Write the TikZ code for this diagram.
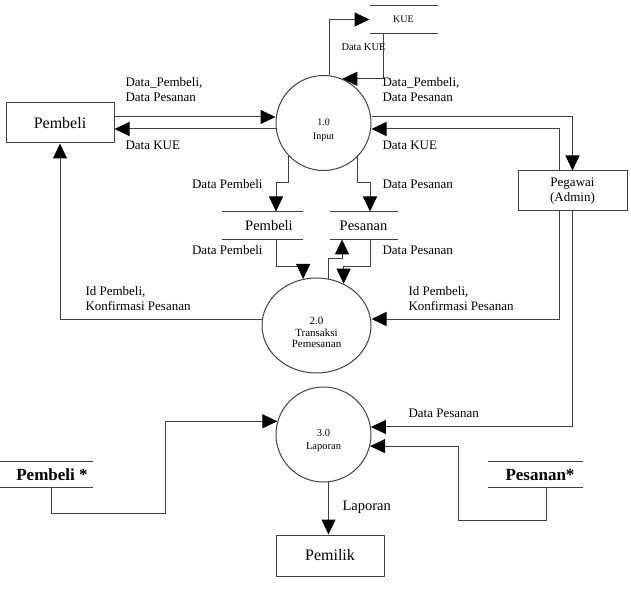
\documentclass[tikz,border=0pt]{standalone}
\usepackage{fontspec}
\setmainfont{Liberation Serif}
\usetikzlibrary{arrows.meta,shapes.geometric}

\begin{document}
\begin{tikzpicture}[x=1pt,y=-1pt,line width=1pt,
    proc/.style={circle,draw=black!75,minimum size=95pt,inner sep=0pt},
    ent/.style={rectangle,draw=black!75,minimum width=108pt,minimum height=40pt,font=\fontsize{16}{18}\selectfont},
    store/.style={minimum height=27pt,inner sep=0pt},
    lbl/.style={inner sep=0pt,align=left,font=\fontsize{13}{15}\selectfont},
    flow/.style={draw=black!75,-{Triangle[length=15pt,width=14pt,color=black]}}]
      \useasboundingbox (0,0) rectangle (631,609);
      \node[ent] (pbl) at (60,123) {Pembeli};
      \node[ent,minimum width=109pt,align=center,font=\fontsize{13}{15}\selectfont] (peg) at (572.5,191) {Pegawai\\(Admin)};
      \node[ent,minimum height=41pt] (pml) at (330,555.5) {Pemilik};
      \node[proc] (p1) at (323.5,123) {};
      \node[align=center,font=\fontsize{10}{14}\selectfont] (p1t) at ([yshift=-7pt]p1) {1.0\\Input};
      \node[ellipse,draw=black!75,minimum width=109pt,minimum height=95pt,inner sep=0pt] (p2) at (316.5,325.5) {};
      \node[align=center,font=\fontsize{11}{11.5}\selectfont] (p2t) at ([yshift=-7pt]p2) {2.0\\Transaksi\\Pemesanan};
      \node[proc] (p3) at (323.5,434.5) {};
      \node[align=center,font=\fontsize{10.5}{13}\selectfont] (p3t) at ([yshift=-6pt]p3) {3.0\\Laporan};
      \node[store,minimum width=67pt,font=\fontsize{10}{12}\selectfont] (kue) at (403.5,19.5) {KUE};
      \node[store,minimum width=80pt,font=\fontsize{14.5}{16}\selectfont] (dpb) at (262,225.5) {\hspace*{14pt}Pembeli};
      \node[store,minimum width=67pt,font=\fontsize{14.5}{16}\selectfont] (dps) at (363.5,225.5) {Pesanan};
      \node[store,minimum width=92pt,minimum height=25pt,font=\bfseries\fontsize{17}{19}\selectfont] (dpb2) at (46,474.5) {\hspace*{12pt}Pembeli *};
      \node[store,minimum width=94pt,minimum height=25pt,font=\bfseries\fontsize{17}{19}\selectfont] (dps2) at (535,474.5) {\hspace*{10pt}Pesanan*};
      \foreach \s in {kue,dpb,dps,dpb2,dps2}
        \draw[black!75] (\s.north west) -- (\s.north east) (\s.south west) -- (\s.south east);
      \draw[flow] ([yshift=6pt]pbl.east) -- ([yshift=6pt]p1.west);
      \draw[flow] ([yshift=-6pt]p1.west) -- ([yshift=-6pt]pbl.east);
      \draw[flow] (p1.83) |- (kue.west);
      \draw[flow] ([xshift=-20.5pt]kue.south) |- (p1.67);
      \draw[flow] ([yshift=6pt]p1.east) -| (peg.north);
      \draw[flow] ([xshift=-13.5pt]peg.north) |- ([yshift=-6pt]p1.east);
      \draw[flow] (p1.-137) |- ([xshift=14pt,yshift=29pt]dpb.north) -- ([xshift=14pt]dpb.north);
      \draw[flow] (p1.-45) |- ([xshift=6.5pt,yshift=29pt]dps.north) -- ([xshift=6.5pt]dps.north);
      \draw[flow] ([xshift=14pt]dpb.south) -- ++(0,27) -| (p2.106);
      \draw[flow] ([xshift=6.5pt]dps.south) -- ++(0,27) -| (p2.57);
      \draw[flow] (p2.76) |- ([xshift=-21.5pt,yshift=-19pt]dps.south) -- ([xshift=-21.5pt]dps.south);
      \draw[flow] ([yshift=6.5pt]p2.west) -| (pbl.south);
      \draw[flow] ([xshift=-13.5pt]peg.south) |- ([yshift=6.5pt]p2.east);
      \draw[flow] (peg.south) |- (p3.9);
      \coordinate (c1) at (458,520);
      \draw[flow] ([xshift=11pt]dps2.south) |- (c1) |- (p3.-14);
      \coordinate (c2) at (165,513);
      \draw[flow] ([xshift=5pt]dpb2.south) |- (c2) |- (p3.164);
      \draw[flow] (p3.-84) -- (p3.-84 |- pml.north);
      \node[lbl,anchor=west] (l1) at (125,89.5) {Data\_Pembeli,\\Data Pesanan};
      \node[lbl,anchor=west] (l2) at (125,145) {Data KUE};
      \node[lbl,anchor=west] (l3) at (382,89.5) {Data\_Pembeli,\\Data Pesanan};
      \node[lbl,anchor=west] (l4) at (382,145) {Data KUE};
      \node[lbl,anchor=west,font=\fontsize{10.5}{12}\selectfont] (l5) at (341,47) {Data KUE};
      \node[lbl,anchor=east] (l6) at (263,184) {Data Pembeli};
      \node[lbl,anchor=west] (l7) at (382,184) {Data Pesanan};
      \node[lbl,anchor=east] (l8) at (263,250) {Data Pembeli};
      \node[lbl,anchor=west] (l9) at (382,250) {Data Pesanan};
      \node[lbl,anchor=west] (l10) at (85,298.5) {Id Pembeli,\\Konfirmasi Pesanan};
      \node[lbl,anchor=west] (l11) at (408,298.5) {Id Pembeli,\\Konfirmasi Pesanan};
      \node[lbl,anchor=west] (l12) at (408,413) {Data Pesanan};
      \node[lbl,anchor=west,font=\fontsize{14.5}{16}\selectfont] (l13) at (342,507) {Laporan};
\end{tikzpicture}
\end{document}
